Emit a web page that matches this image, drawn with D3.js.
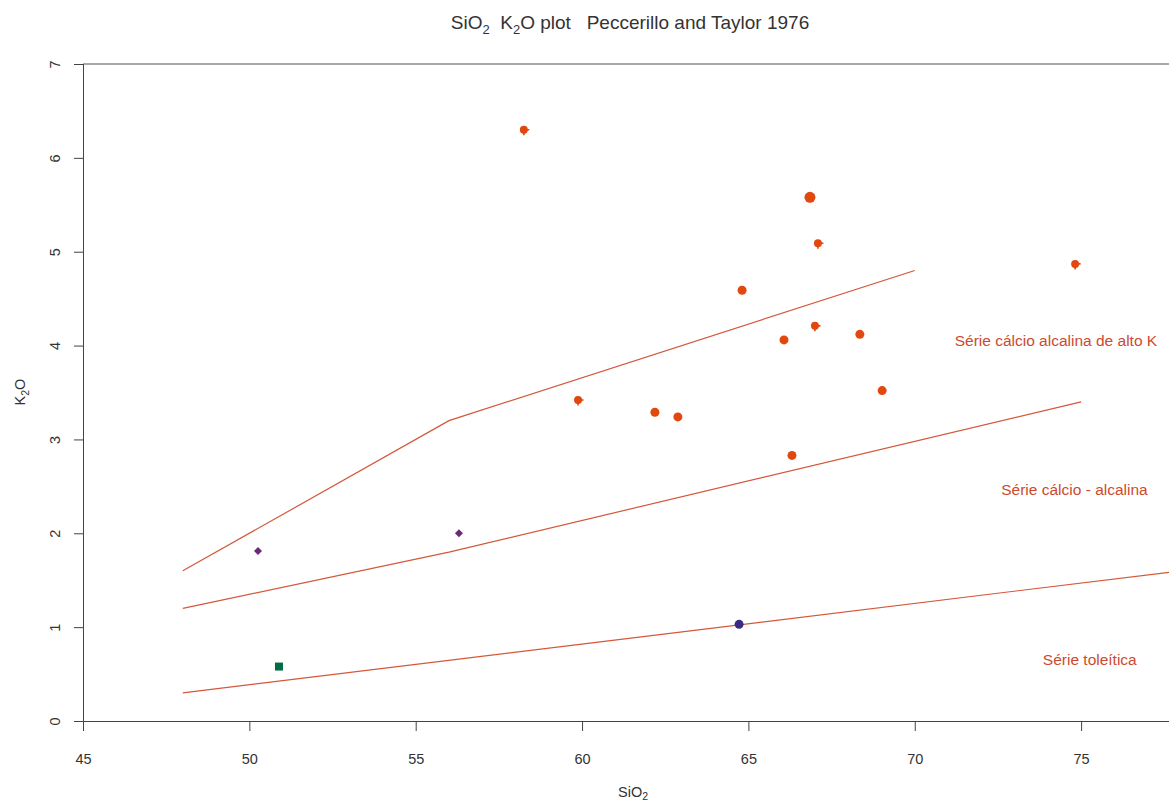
<!DOCTYPE html>
<html>
<head>
<meta charset="utf-8">
<script src="https://cdn.jsdelivr.net/npm/d3@7"></script>
<style>
  body { margin: 0; background: #fff; }
  svg { font-family: "Liberation Sans", Arial, sans-serif; }
  .axis path, .axis line { stroke: #444; }
  .axis text { fill: #333; font-size: 14.5px; }
</style>
</head>
<body>
<div id="chart"></div>
<script>
(function(d3) {
    'use strict';

    // Data (SiO2 wt%, K2O wt%)
    var circleSiO2 = [66.85, 64.81, 66.07, 68.35, 62.19, 62.88, 69.02, 66.31];
    var circleK2O  = [5.58, 4.59, 4.06, 4.12, 3.29, 3.24, 3.52, 2.83];
    var crossSiO2  = [58.25, 67.09, 74.82, 67.0, 59.88];
    var crossK2O   = [6.30, 5.09, 4.87, 4.21, 3.42];
    var diamondSiO2 = [50.26, 56.3];
    var diamondK2O  = [1.81, 2.0];
    var squareSiO2 = [50.89];
    var squareK2O  = [0.58];
    var navySiO2 = [64.72];
    var navyK2O  = [1.03];

    // Peccerillo & Taylor boundaries
    var highKBoundary = [[48, 1.6], [56, 3.2], [70, 4.8]];
    var calcAlkBoundary = [[48, 1.2], [56, 1.8], [75, 3.4]];
    var tholBoundary = [[48, 0.3], [78, 1.6]];

    var fieldLabels = ['Série cálcio alcalina de alto K', 'Série cálcio - alcalina', 'Série toleítica'];
    var fieldLabelSiO2 = [71.2, 72.6, 73.85];
    var fieldLabelK2O = [4.0, 2.41, 0.6];

    var xTicks = [45, 50, 55, 60, 65, 70, 75];
    var yTicks = [0, 1, 2, 3, 4, 5, 6, 7];

    // Layout
    var width = 1169;
    var height = 806;
    var margin = { top: 64, right: 0, bottom: 85, left: 83 };
    var innerW = width - margin.left - margin.right;
    var innerH = height - margin.top - margin.bottom;

    var lineColor = '#d4573a';
    var pointColor = '#e2470e';

    var x = d3.scaleLinear().domain([45, 45 + innerW / 33.27]).range([0, innerW]);
    var y = d3.scaleLinear().domain([0, 7]).range([innerH, 0]);

    var svg = d3.select('#chart')
        .append('svg')
        .attr('width', width)
        .attr('height', height);

    var g = svg.append('g')
        .attr('transform', 'translate(' + margin.left + ',' + margin.top + ')');

    g.append('clipPath')
        .attr('id', 'plotClip')
        .append('rect')
        .attr('width', innerW)
        .attr('height', innerH);

    // Top frame line
    g.append('line')
        .attr('x1', 0).attr('x2', innerW)
        .attr('y1', 0).attr('y2', 0)
        .attr('stroke', '#555');

    // Axes
    var xAxis = g.append('g')
        .attr('class', 'axis')
        .attr('transform', 'translate(0,' + innerH + ')')
        .call(d3.axisBottom(x).tickValues(xTicks).tickSize(10).tickPadding(23).tickSizeOuter(0));
    xAxis.select('.domain').attr('d', 'M-9,0.5H' + innerW);

    var yAxis = g.append('g')
        .attr('class', 'axis')
        .call(d3.axisLeft(y).tickValues(yTicks).tickFormat(d3.format('d')).tickSize(9).tickSizeOuter(0));
    yAxis.select('.domain').attr('d', 'M0.5,0V' + (innerH + 9));
    yAxis.selectAll('.tick text')
        .attr('x', null).attr('dy', null)
        .attr('text-anchor', 'middle')
        .attr('transform', 'translate(-23,0) rotate(-90)');

    // Axis titles
    var xt = svg.append('text')
        .attr('x', 633).attr('y', 797)
        .attr('text-anchor', 'middle')
        .attr('fill', '#333')
        .style('font-size', '14.5px');
    xt.append('tspan').text('SiO');
    xt.append('tspan').attr('dy', 3).style('font-size', '10.5px').text('2');

    var yt = svg.append('text')
        .attr('transform', 'translate(25,392) rotate(-90)')
        .attr('text-anchor', 'middle')
        .attr('fill', '#333')
        .style('font-size', '14.5px');
    yt.append('tspan').text('K');
    yt.append('tspan').attr('dy', 4).style('font-size', '10.5px').text('2');
    yt.append('tspan').attr('dy', -4).text('O');

    // Title
    var title = svg.append('text')
        .attr('x', 630).attr('y', 29)
        .attr('text-anchor', 'middle')
        .attr('fill', '#333')
        .style('font-size', '19px');
    title.append('tspan').text('SiO');
    title.append('tspan').attr('dy', 5).style('font-size', '13px').text('2');
    title.append('tspan').attr('dy', -5).text('\u00a0\u00a0K');
    title.append('tspan').attr('dy', 5).style('font-size', '13px').text('2');
    title.append('tspan').attr('dy', -5).text('O plot\u00a0\u00a0 Peccerillo and Taylor 1976');

    // Boundary lines
    var line = d3.line()
        .x(function(d) { return x(d[0]); })
        .y(function(d) { return y(d[1]); });

    g.append('g')
        .attr('clip-path', 'url(#plotClip)')
        .selectAll('path')
        .data([highKBoundary, calcAlkBoundary, tholBoundary])
        .enter()
        .append('path')
        .attr('d', line)
        .attr('fill', 'none')
        .attr('stroke', lineColor)
        .attr('stroke-width', 1.2);

    // Field labels
    g.selectAll('.field-label')
        .data(fieldLabels)
        .enter()
        .append('text')
        .attr('class', 'field-label')
        .attr('x', function(d, i) { return x(fieldLabelSiO2[i]); })
        .attr('y', function(d, i) { return y(fieldLabelK2O[i]); })
        .attr('fill', '#cc4a30')
        .style('font-size', '15.5px')
        .text(function(d) { return d; });

    function zip(a, b) {
        return a.map(function(v, i) { return [v, b[i]]; });
    }

    // Circles
    g.selectAll('.pt-circle')
        .data(zip(circleSiO2, circleK2O))
        .enter()
        .append('circle')
        .attr('class', 'pt-circle')
        .attr('cx', function(d) { return x(d[0]); })
        .attr('cy', function(d) { return y(d[1]); })
        .attr('r', function(d, i) { return i === 0 ? 5.5 : 4.5; })
        .attr('fill', pointColor);

    // Circles with a small cross
    var crossPts = g.selectAll('.pt-cross')
        .data(zip(crossSiO2, crossK2O))
        .enter()
        .append('g')
        .attr('class', 'pt-cross')
        .attr('transform', function(d) {
            return 'translate(' + x(d[0]) + ',' + y(d[1]) + ')';
        });
    crossPts.append('circle')
        .attr('r', 4)
        .attr('fill', pointColor);
    crossPts.append('path')
        .attr('d', 'M0,0H5.5M0,0V5.5')
        .attr('stroke', pointColor)
        .attr('stroke-width', 1.6);

    // Diamonds
    g.selectAll('.pt-diamond')
        .data(zip(diamondSiO2, diamondK2O))
        .enter()
        .append('path')
        .attr('class', 'pt-diamond')
        .attr('transform', function(d) {
            return 'translate(' + x(d[0]) + ',' + y(d[1]) + ')';
        })
        .attr('d', 'M0,-4L4,0L0,4L-4,0Z')
        .attr('fill', '#6b2a78');

    // Squares
    g.selectAll('.pt-square')
        .data(zip(squareSiO2, squareK2O))
        .enter()
        .append('rect')
        .attr('class', 'pt-square')
        .attr('x', function(d) { return x(d[0]) - 4; })
        .attr('y', function(d) { return y(d[1]) - 4; })
        .attr('width', 8)
        .attr('height', 8)
        .attr('fill', '#006d44');

    // Navy point
    g.selectAll('.pt-navy')
        .data(zip(navySiO2, navyK2O))
        .enter()
        .append('circle')
        .attr('class', 'pt-navy')
        .attr('cx', function(d) { return x(d[0]); })
        .attr('cy', function(d) { return y(d[1]); })
        .attr('r', 4.5)
        .attr('fill', '#3b2a82');

})(window.d3);
</script>
</body>
</html>
